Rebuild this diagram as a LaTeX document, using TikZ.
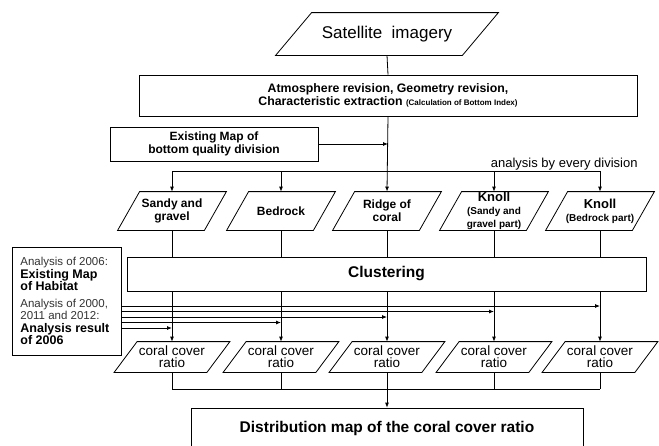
\documentclass[tikz,border=0pt]{standalone}
\usepackage{fontspec}
\setmainfont{Liberation Sans}
\usetikzlibrary{arrows.meta}
\begin{document}
\begin{tikzpicture}[x=1pt,y=-1pt,line width=0.8pt,
  >={Latex[length=5pt,width=4pt]},
  box/.style={draw,inner sep=0pt,align=center},
  para/.style={inner sep=0pt,align=center},
  bigpara/.style={para,minimum width=108pt,minimum height=38pt,font=\fontsize{12}{13}\selectfont\bfseries},
  coralpara/.style={para,minimum width=115pt,minimum height=30pt,font=\fontsize{13.5}{12}\selectfont},
  ltxt/.style={anchor=base west,inner sep=0pt,text=black!80},
  lbold/.style={anchor=base west,inner sep=0pt,font=\fontsize{12.5}{13}\selectfont\bfseries}]
\useasboundingbox (0,0) rectangle (659,445);

% top
\node[para,minimum width=222pt,minimum height=42pt,font=\fontsize{17}{20}\selectfont] (sat) at (387,34) {Satellite\ \ imagery};
\node[box,minimum width=498pt,minimum height=41pt,font=\fontsize{12.3}{13.5}\selectfont\bfseries] (atm) at (388,95.5)
  {Atmosphere revision, Geometry revision,\\Characteristic extraction {\fontsize{8}{9}\selectfont (Calculation of Bottom Index)}};
\node[box,minimum width=208pt,minimum height=34pt,font=\fontsize{12}{13}\selectfont\bfseries] (exist) at (214,144)
  {Existing Map of\\bottom quality division};
\node[anchor=base east,inner sep=0pt,font=\fontsize{13}{15}\selectfont] (abd) at (638,167) {analysis by every division};

% divisions
\node[bigpara] (s1) at (172,211) {Sandy and\\gravel};
\node[bigpara] (s2) at (281,211) {Bedrock};
\node[bigpara] (s3) at (387,211) {Ridge of\\coral};
\node[bigpara] (s4) at (494,211) {{\fontsize{13}{11}\selectfont Knoll}\\{\fontsize{10}{10.5}\selectfont (Sandy and}\\{\fontsize{10}{10.5}\selectfont gravel part)}};
\node[bigpara] (s5) at (600,211) {{\fontsize{13}{12}\selectfont Knoll}\\{\fontsize{10}{11}\selectfont (Bedrock part)}};

\node[box,minimum width=519pt,minimum height=34pt,font=\fontsize{15.5}{18}\selectfont\bfseries] (clu) at (386.5,274) {Clustering};

% left box
\node[draw,inner sep=0pt,minimum width=109pt,minimum height=108pt] (lbox) at (66.5,301) {};
\node[ltxt,font=\fontsize{11.5}{12}\selectfont] (l1) at (20,265) {Analysis of 2006:};
\node[lbold] (l2) at (20,278) {Existing Map};
\node[lbold] (l3) at (20,290.5) {of Habitat};
\node[ltxt,font=\fontsize{11.5}{12}\selectfont] (l4) at (20,307) {Analysis of 2000,};
\node[ltxt,font=\fontsize{11.5}{12}\selectfont] (l5) at (20,319) {2011 and 2012:};
\node[lbold] (l6) at (20,332) {Analysis result};
\node[lbold] (l7) at (20,344.5) {of 2006};

% coral cover ratio
\node[coralpara] (c1) at (172,357) {coral cover\\ratio};
\node[coralpara] (c2) at (281,357) {coral cover\\ratio};
\node[coralpara] (c3) at (387,357) {coral cover\\ratio};
\node[coralpara] (c4) at (494,357) {coral cover\\ratio};
\node[coralpara] (c5) at (600,357) {coral cover\\ratio};

\node[box,minimum width=392pt,minimum height=40pt,font=\fontsize{15.5}{18}\selectfont\bfseries] (dist) at (387,428)
  {Distribution map of the coral cover ratio};

% parallelogram outlines
\foreach \n/\s in {sat/36pt,s1/22pt,s2/22pt,s3/22pt,s4/22pt,s5/22pt,c1/23pt,c2/23pt,c3/23pt,c4/23pt,c5/23pt}
  \draw ([xshift=\s]\n.north west) -- (\n.north east) -- ([xshift=-\s]\n.south east) -- (\n.south west) -- cycle;

% connectors top
\draw (sat.south) -- (atm.north);
\draw[->] (atm.south) -- (s3.north);
\draw[->] (exist.east) -- (exist.east -| atm.south);
\coordinate (br) at (387,171);
\draw (s1.north |- br) -- (s5.north |- br);
\foreach \n in {s1,s2,s4,s5} \draw[->] (\n.north |- br) -- (\n.north);
\foreach \n in {s1,s2,s3,s4,s5} \draw (\n.south) -- (\n.south |- clu.north);

% clustering to coral
\foreach \n in {c1,c2,c3,c4,c5} \draw[->] (\n.north |- clu.south) -- (\n.north);

% left box arrows
\coordinate (h5) at (600,306);
\coordinate (h4) at (494,311.5);
\coordinate (h3) at (387,317);
\coordinate (h2) at (281,322.5);
\coordinate (h1) at (172,328);
\foreach \h in {h1,h2,h3,h4,h5} \draw[->] (lbox.east |- \h) -- (\h);

% join
\coordinate (jn) at (387,389);
\draw (c1.south |- jn) -- (c5.south |- jn);
\foreach \n in {c1,c2,c3,c4,c5} \draw (\n.south) -- (\n.south |- jn);
\draw[->] (jn) -- (dist.north);
\end{tikzpicture}
\end{document}
